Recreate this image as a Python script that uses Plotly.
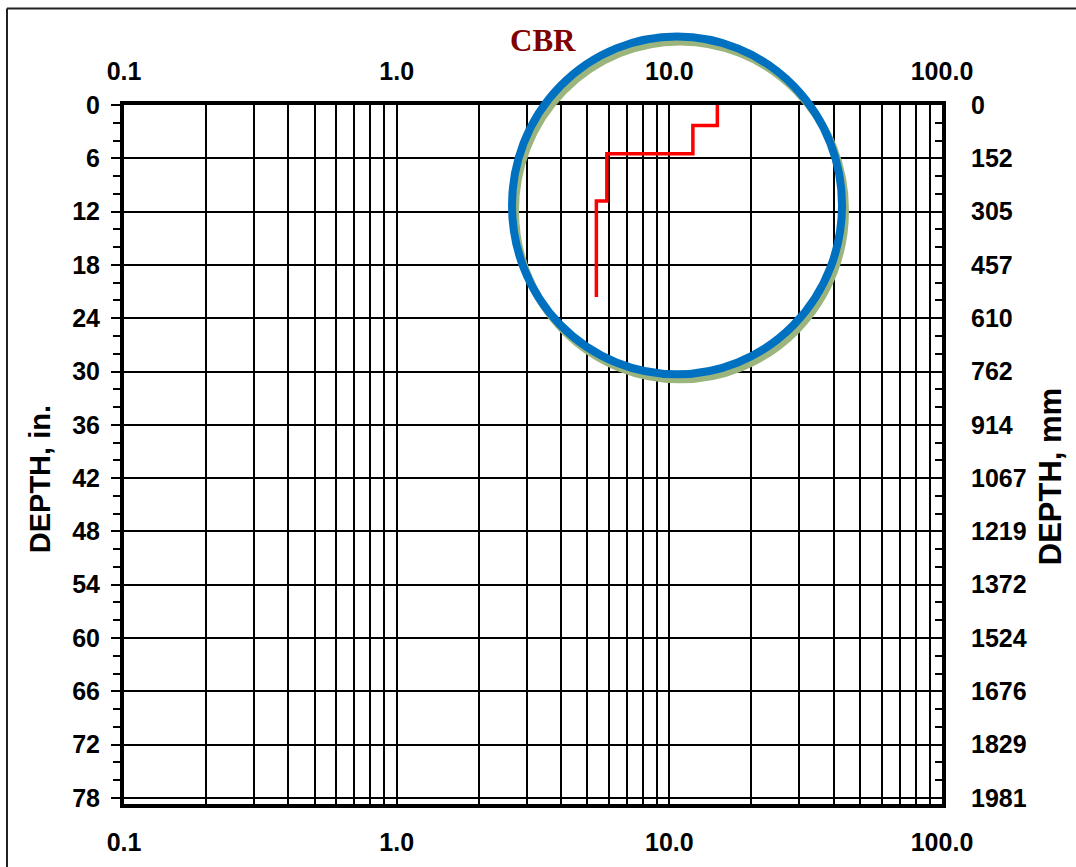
import plotly.graph_objects as go

# ---------------- data ----------------
LAYER_TOP_IN = [0.0, 2.3, 5.5, 10.8]
LAYER_BOTTOM_IN = [2.3, 5.5, 10.8, 21.6]
LAYER_CBR = [15.0, 12.2, 5.9, 5.4]

X_DECADES = [0.1, 1.0, 10.0, 100.0]
X_TICK_LABELS = ["0.1", "1.0", "10.0", "100.0"]
Y_TICKS_IN = [0, 6, 12, 18, 24, 30, 36, 42, 48, 54, 60, 66, 72, 78]
Y_TICK_LABELS_MM = ["0", "152", "305", "457", "610", "762", "914", "1067",
                    "1219", "1372", "1524", "1676", "1829", "1981"]

# ---------------- layout geometry ----------------
W, H = 1076, 867
L, R, T, B = 124, 134, 104.5, 63
PW, PH = W - L - R, H - T - B
IN_PX = 8.89                 # pixels per inch of depth
X_RANGE = [-1, 2]
Y_RANGE = [PH / IN_PX, 0]


def px(x):
    return (x - L) / PW


def py(y):
    return (H - B - y) / PH


# step line from layers
xs, ys = [], []
for top, bot, cbr in zip(LAYER_TOP_IN, LAYER_BOTTOM_IN, LAYER_CBR):
    xs += [cbr, cbr]
    ys += [top, bot]

# gridline positions on log axis: 1..9 x each decade
grid_vals, grid_text = [], []
for d, lab in zip(X_DECADES[:-1], X_TICK_LABELS[:-1]):
    for k in range(1, 10):
        grid_vals.append(round(d * k, 6))
        grid_text.append(lab if k == 1 else "")
grid_vals.append(X_DECADES[-1])
grid_text.append(X_TICK_LABELS[-1])

FONT = "Liberation Sans"
tickfont = dict(family=FONT, size=25, color="black", weight="bold")

fig = go.Figure()
fig.add_trace(go.Scatter(x=xs, y=ys, mode="lines",
                         line=dict(color="#FF0000", width=3.5),
                         showlegend=False, hoverinfo="skip"))
# invisible trace for the secondary axes
fig.add_trace(go.Scatter(x=[1], y=[0], xaxis="x2", yaxis="y2", mode="markers",
                         marker=dict(opacity=0), showlegend=False, hoverinfo="skip"))

fig.update_layout(
    width=W, height=H,
    margin=dict(l=L, r=R, t=T, b=B, autoexpand=False),
    paper_bgcolor="white", plot_bgcolor="white",
    showlegend=False,
    xaxis=dict(type="log", range=X_RANGE, tickvals=grid_vals, ticktext=grid_text,
               showgrid=True, gridcolor="black", gridwidth=2, automargin=False,
               ticks="", showline=True, linecolor="black", linewidth=4,
               tickfont=tickfont, ticklabelstandoff=13, zeroline=False),
    xaxis2=dict(type="log", range=X_RANGE, overlaying="x", side="top", anchor="y",
                tickvals=X_DECADES, ticktext=X_TICK_LABELS, showgrid=False,
                automargin=False,
                ticks="", showline=True, linecolor="black", linewidth=4,
                tickfont=tickfont, ticklabelstandoff=11),
    yaxis=dict(range=Y_RANGE, tickvals=Y_TICKS_IN,
               ticktext=[str(v) for v in Y_TICKS_IN], automargin=False,
               showgrid=True, gridcolor="black", gridwidth=2, zeroline=False,
               ticks="outside", ticklen=9, tickwidth=2, tickcolor="black",
               minor=dict(dtick=2, tick0=0, ticks="outside", ticklen=7,
                          tickwidth=2, tickcolor="black", showgrid=False),
               showline=True, linecolor="black", linewidth=4,
               tickfont=tickfont, ticklabelstandoff=6),
    yaxis2=dict(range=[v * 25.4 for v in Y_RANGE], overlaying="y", side="right",
                anchor="x",
                tickvals=[v * 25.4 for v in Y_TICKS_IN], ticktext=Y_TICK_LABELS_MM,
                showgrid=False, zeroline=False, automargin=False,
                ticks="inside", ticklen=7, tickwidth=2, tickcolor="black",
                minor=dict(dtick=50.8, tick0=0, ticks="inside", ticklen=7,
                           tickwidth=2, tickcolor="black", showgrid=False),
                showline=True, linecolor="black", linewidth=4,
                tickfont=tickfont, ticklabelstandoff=20),
)

shapes = [
    # outer border (top & left edges visible)
    dict(type="line", xref="paper", yref="paper",
         x0=px(7), x1=px(W + 10), y0=py(8), y1=py(8),
         line=dict(color="#222222", width=2), layer="below"),
    dict(type="line", xref="paper", yref="paper",
         x0=px(7), x1=px(7), y0=py(8), y1=py(H + 10),
         line=dict(color="#222222", width=2), layer="below"),
    # green shadow circle
    dict(type="circle", xref="paper", yref="paper",
         x0=px(515), x1=px(845), y0=py(379), y1=py(41),
         line=dict(color="#9CB57C", width=8)),
    # blue circle
    dict(type="circle", xref="paper", yref="paper",
         x0=px(512), x1=px(842), y0=py(374), y1=py(36),
         line=dict(color="#0070C0", width=8)),
]
fig.update_layout(shapes=shapes)

fig.add_annotation(text="CBR", xref="paper", yref="paper", x=px(543), y=py(40),
                   showarrow=False, xanchor="center", yanchor="middle",
                   font=dict(family="Liberation Serif", size=31, color="#800000",
                             weight="bold"))
fig.add_annotation(text="DEPTH, in.", xref="paper", yref="paper", x=px(40), y=py(479),
                   showarrow=False, textangle=-90, xanchor="center", yanchor="middle",
                   font=dict(family=FONT, size=29, color="black", weight="bold"))
fig.add_annotation(text="DEPTH, mm", xref="paper", yref="paper", x=px(1050), y=py(477),
                   showarrow=False, textangle=-90, xanchor="center", yanchor="middle",
                   font=dict(family=FONT, size=31, color="black", weight="bold"))

fig.write_html("out.html")
